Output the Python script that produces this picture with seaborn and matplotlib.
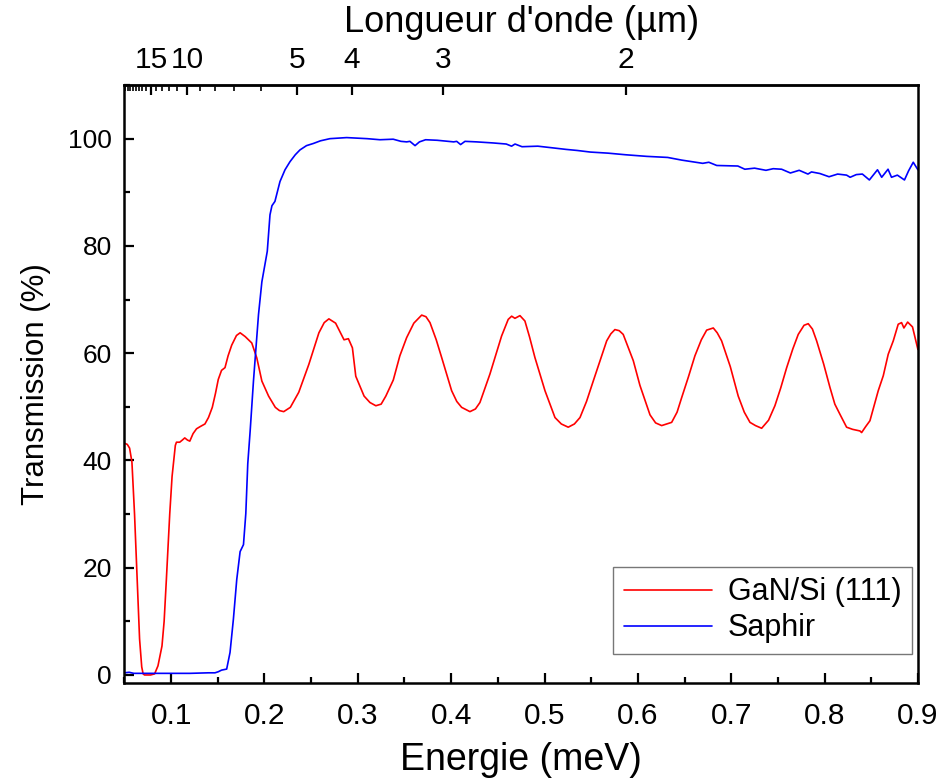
import numpy as np
import pandas as pd
import matplotlib
matplotlib.use('Agg')
import matplotlib.pyplot as plt
import seaborn as sns
from matplotlib.ticker import FixedLocator, MultipleLocator

# ---------------- data ----------------
series_names = ['GaN/Si (111)', 'Saphir']
series_colors = ['#ff0000', '#0000ff']

gan_energy = [0.050, 0.053, 0.0555, 0.058, 0.0608, 0.0636, 0.0662, 0.0685, 0.0700, 0.0715,
              0.0780, 0.0823, 0.0859, 0.0902, 0.0925, 0.0949, 0.0985, 0.1010, 0.1031, 0.1045,
              0.1057, 0.1092, 0.1120, 0.1146, 0.1175, 0.1200, 0.1235, 0.1272, 0.1310, 0.1362,
              0.1400, 0.1441, 0.1475, 0.1505, 0.1540, 0.1577, 0.1610, 0.1649, 0.1700, 0.1739,
              0.1793, 0.1864, 0.1918, 0.1972, 0.2044, 0.2116, 0.2160, 0.2206, 0.2277, 0.2367,
              0.2475, 0.2583, 0.2640, 0.2690, 0.2762, 0.2852, 0.2899, 0.2942, 0.2978, 0.3067,
              0.3130, 0.3193, 0.3250, 0.3300, 0.3380, 0.3450, 0.3523, 0.3600, 0.3684, 0.3730,
              0.3773, 0.3840, 0.3898, 0.4005, 0.4060, 0.4112, 0.4201, 0.4260, 0.4308, 0.4415,
              0.4540, 0.4611, 0.4648, 0.4683, 0.4737, 0.4790, 0.4840, 0.4897, 0.5005, 0.5112,
              0.5180, 0.5254, 0.5320, 0.5380, 0.5450, 0.5522, 0.5666, 0.5710, 0.5754, 0.5800,
              0.5843, 0.5951, 0.6022, 0.6094, 0.6130, 0.6190, 0.6255, 0.6362, 0.6420, 0.6469,
              0.6540, 0.6611, 0.6680, 0.6737, 0.6808, 0.6850, 0.6897, 0.6990, 0.7075, 0.7140,
              0.7201, 0.7260, 0.7326, 0.7400, 0.7468, 0.7530, 0.7594, 0.7660, 0.7718, 0.7780,
              0.7825, 0.7870, 0.7915, 0.7990, 0.8058, 0.8110, 0.8165, 0.8236, 0.8300, 0.8379,
              0.8397, 0.8440, 0.8486, 0.8575, 0.8629, 0.8682, 0.8736, 0.8789, 0.8825, 0.8850,
              0.8890, 0.8942, 0.8975, 0.9000]
gan_trans = [43.2, 43.0, 42.3, 39.7, 30.0, 17.8, 6.7, 1.5, 0.2, 0.0,
             0.0, 0.2, 1.7, 5.4, 10.0, 17.8, 30.0, 37.0, 40.6, 42.8,
             43.4, 43.4, 43.8, 44.2, 43.8, 43.6, 45.0, 45.9, 46.3, 46.8,
             48.0, 49.9, 52.5, 55.1, 56.8, 57.3, 59.5, 61.5, 63.3, 63.8,
             63.1, 61.9, 59.1, 54.8, 52.0, 49.9, 49.3, 49.1, 49.9, 52.7,
             57.9, 63.8, 65.7, 66.4, 65.6, 62.5, 62.7, 61.0, 55.7, 52.0,
             50.8, 50.2, 50.5, 52.0, 55.0, 59.5, 62.9, 65.6, 67.1, 66.8,
             65.7, 62.5, 59.2, 53.0, 51.0, 49.9, 49.1, 49.6, 50.8, 56.1,
             63.2, 66.3, 66.9, 66.5, 67.0, 66.0, 63.0, 59.2, 53.0, 48.0,
             46.8, 46.2, 46.8, 48.0, 51.0, 54.8, 62.3, 63.6, 64.4, 64.2,
             63.5, 58.6, 54.0, 50.3, 48.5, 47.0, 46.5, 47.1, 49.0, 51.7,
             55.5, 59.5, 62.5, 64.3, 64.7, 63.8, 62.3, 57.5, 52.0, 49.0,
             47.1, 46.5, 46.0, 47.5, 50.2, 53.5, 57.3, 60.8, 63.5, 65.2,
             65.5, 64.5, 62.3, 58.0, 53.6, 50.5, 48.6, 46.2, 45.8, 45.5,
             45.2, 46.3, 47.4, 53.0, 55.8, 59.8, 62.3, 65.4, 65.7, 64.7,
             65.8, 64.9, 62.5, 60.7]

saphir_energy = [0.050, 0.055, 0.060, 0.080, 0.100, 0.120, 0.140, 0.147, 0.1505, 0.1540,
                 0.1595, 0.1631, 0.1667, 0.1703, 0.1739, 0.1775, 0.1800, 0.1821, 0.1847, 0.1882,
                 0.1936, 0.1972, 0.2030, 0.2059, 0.2080, 0.2112, 0.2166, 0.2220, 0.2273, 0.2330,
                 0.2380, 0.2450, 0.2523, 0.2600, 0.2701, 0.2880, 0.3100, 0.3237, 0.3379, 0.3462,
                 0.3523, 0.3558, 0.3613, 0.3660, 0.3726, 0.3850, 0.4027, 0.4059, 0.4101, 0.4148,
                 0.4273, 0.4450, 0.4590, 0.4647, 0.4684, 0.4759, 0.4928, 0.5080, 0.5230, 0.5350,
                 0.5492, 0.5680, 0.5868, 0.6094, 0.6319, 0.6470, 0.6620, 0.6695, 0.6760, 0.6845,
                 0.7071, 0.7146, 0.7250, 0.7372, 0.7450, 0.7540, 0.7634, 0.7728, 0.7822, 0.7860,
                 0.7950, 0.8048, 0.8140, 0.8236, 0.8274, 0.8340, 0.8405, 0.8480, 0.8567, 0.8612,
                 0.8680, 0.8717, 0.8780, 0.8856, 0.8900, 0.8950, 0.9000]
saphir_trans = [0.4, 0.5, 0.3, 0.3, 0.3, 0.3, 0.4, 0.4, 0.6, 0.9,
                1.1, 4.2, 10.4, 17.8, 23.0, 24.3, 30.1, 39.4, 45.6, 54.8,
                67.2, 73.3, 79.0, 85.8, 87.5, 88.3, 92.0, 94.2, 95.7, 97.0,
                97.9, 98.7, 99.1, 99.6, 100.0, 100.2, 100.0, 99.8, 99.9, 99.5,
                99.4, 99.5, 98.7, 99.4, 99.8, 99.7, 99.4, 99.5, 98.9, 99.5,
                99.4, 99.2, 99.0, 98.6, 99.0, 98.5, 98.6, 98.3, 98.0, 97.8,
                97.5, 97.3, 97.0, 96.7, 96.5, 96.0, 95.6, 95.4, 95.6, 95.0,
                94.9, 94.3, 94.5, 94.1, 94.4, 94.3, 93.6, 94.1, 93.4, 93.8,
                93.5, 92.9, 93.4, 93.2, 92.8, 93.3, 93.4, 92.3, 94.2, 92.8,
                94.3, 92.8, 93.2, 92.3, 94.0, 95.6, 94.2]

x_ticks = [0.1, 0.2, 0.3, 0.4, 0.5, 0.6, 0.7, 0.8, 0.9]
y_ticks = [0, 20, 40, 60, 80, 100]
wavelength_major = [15, 10, 5, 4, 3, 2]
wavelength_minor = [6, 7, 8, 9, 11, 12, 13, 14, 16, 17, 18, 19, 20, 21, 22, 23]
energy_wavelength_const = 1.175  # E = const / lambda, as laid out on the top axis

# ---------------- styling ----------------
sns.set_style('ticks')
plt.rcParams['font.family'] = ['Liberation Sans', 'DejaVu Sans']
plt.rcParams['text.color'] = 'black'
plt.rcParams['axes.labelcolor'] = 'black'
plt.rcParams['xtick.color'] = 'black'
plt.rcParams['ytick.color'] = 'black'

df = pd.concat([
    pd.DataFrame({'Energie': gan_energy, 'T': gan_trans, 'serie': series_names[0]}),
    pd.DataFrame({'Energie': saphir_energy, 'T': saphir_trans, 'serie': series_names[1]}),
], ignore_index=True)

fig = plt.figure(figsize=(9.4, 7.78), dpi=100)
ax = fig.add_axes([0.1324, 0.1221, 0.8441, 0.7686])

sns.lineplot(data=df, x='Energie', y='T', hue='serie', hue_order=series_names,
             palette=dict(zip(series_names, series_colors)), sort=False,
             estimator=None, linewidth=1.2, ax=ax, legend=False)

ax.set_xlim(0.05, 0.9)
ax.set_ylim(-1.5, 110)

ax.set_xticks(x_ticks)
ax.set_xticklabels([f'{v:.1f}' for v in x_ticks], fontsize=21.5)
ax.xaxis.set_minor_locator(MultipleLocator(0.05))
ax.set_yticks(y_ticks)
ax.set_yticklabels([str(v) for v in y_ticks], fontsize=19)
ax.yaxis.set_minor_locator(MultipleLocator(10))

ax.tick_params(which='major', direction='in', length=7, width=1.6, colors='black',
               top=False, right=False)
ax.tick_params(axis='x', which='major', pad=14)
ax.tick_params(axis='y', which='major', pad=9)
ax.tick_params(which='minor', direction='in', length=4, width=1.6, top=False, right=False)

for s in ax.spines.values():
    s.set_visible(True)
    s.set_linewidth(1.8)
    s.set_color('black')

ax.set_xlabel('Energie (meV)', fontsize=27, labelpad=8)
ax.set_ylabel('Transmission (%)', fontsize=22.5, labelpad=12)

# top wavelength axis
conv = lambda v: energy_wavelength_const / np.clip(v, 1e-6, None)
sec = ax.secondary_xaxis('top', functions=(conv, conv))
sec.xaxis.set_major_locator(FixedLocator(wavelength_major))
sec.xaxis.set_minor_locator(FixedLocator(wavelength_minor))
sec.set_xticklabels([str(v) for v in wavelength_major], fontsize=21.5)
sec.tick_params(which='major', direction='in', length=7, width=1.6, pad=8, colors='black')
sec.tick_params(which='minor', direction='in', length=4, width=1.2, colors='black')
sec.spines['top'].set_linewidth(1.8)
sec.set_xlabel("Longueur d'onde (µm)", fontsize=26, labelpad=10)

# legend
handles = [plt.Line2D([], [], color=c, lw=1.2) for c in series_colors]
leg = ax.legend(handles, series_names, loc='lower right', bbox_to_anchor=(0.9924, 0.0485),
                borderaxespad=0, fontsize=22, frameon=True, fancybox=False,
                handlelength=2.9, handletextpad=0.5, borderpad=0.35, labelspacing=0.2)
leg.get_frame().set_edgecolor('#555555')
leg.get_frame().set_linewidth(1.0)

fig.savefig('out.png', dpi=100, facecolor='white')
